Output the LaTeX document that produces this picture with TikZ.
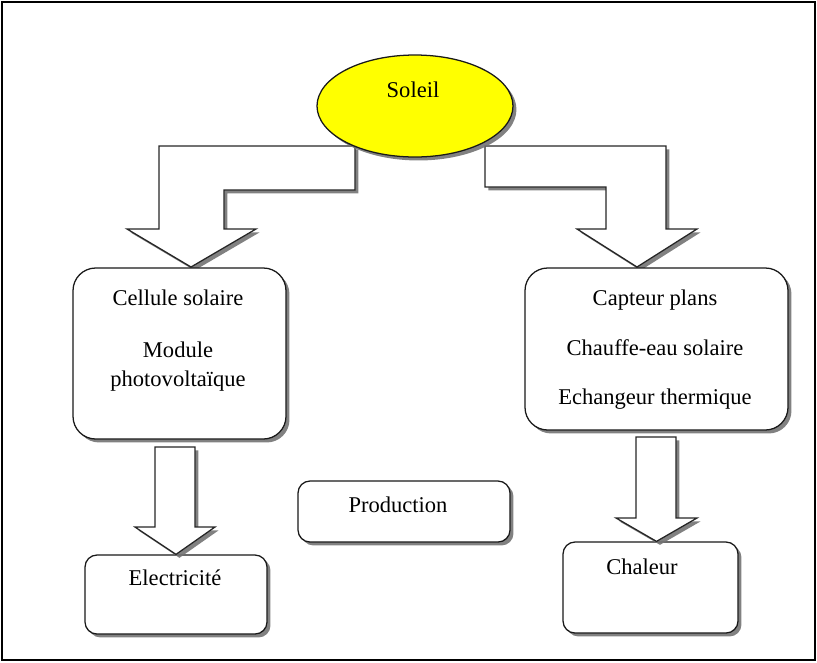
\documentclass[tikz,border=0pt]{standalone}
\usepackage{fontspec}
\setmainfont{Liberation Serif}
\usetikzlibrary{shapes.geometric,shadows}

\definecolor{sunyellow}{RGB}{255,255,0}

\tikzset{
  shade/.style={drop shadow={shadow xshift=2.6pt,shadow yshift=-2.6pt,fill=black!55,opacity=0.9}},
  box/.style={draw=black!90,line width=0.95pt,fill=white,rounded corners=17pt,shade,inner sep=0pt},
  flatbox/.style={box,rounded corners=9pt},
  blockarrow/.style={draw=black!85,line width=0.95pt,fill=white,line join=miter,shade},
  txt/.style={anchor=base,inner sep=0pt,font=\fontsize{16.9}{20}\selectfont}
}

\begin{document}
\begin{tikzpicture}[x=0.75pt,y=-0.75pt]
  \useasboundingbox (0,0) rectangle (817,662);
  \draw[line width=1.2pt] (2,2) rectangle (815,660);

  %arrows from the sun
  \draw[blockarrow] (159,146) -- (355,146) -- (355,190) -- (224,190) -- (224,229)
      -- (256,229) -- (191,267) -- (127,229) -- (159,229) -- cycle;
  \draw[blockarrow] (485,146) -- (666,146) -- (666,229) -- (697,229) -- (637,267)
      -- (577,229) -- (606,229) -- (606,187) -- (485,187) -- cycle;

  \node[ellipse,draw=black!90,line width=0.95pt,fill=sunyellow,shade,
        minimum width=147pt,minimum height=76.5pt,inner sep=0pt] (soleil) at (415,106) {};
  \node[txt] (tsoleil) at (413,97) {Soleil};

  %boxes
  \node[box,minimum width=159.75pt,minimum height=128.25pt] (cellule) at (179.5,353.5) {};
  \node[box,minimum width=197.25pt,minimum height=121.5pt] (capteur) at (656.5,349) {};
  \node[flatbox,minimum width=136.5pt,minimum height=59.25pt] (elec) at (176,594.5) {};
  \node[flatbox,minimum width=159pt,minimum height=45.75pt] (prod) at (404,511.5) {};
  \node[flatbox,minimum width=131.25pt,minimum height=68.25pt] (chaleur) at (650.5,587.5) {};

  \node[txt] (t1) at (178,305) {Cellule solaire};
  \node[txt] (t2) at (178,357) {Module};
  \node[txt] (t3) at (178,386) {photovoltaïque};
  \node[txt] (t4) at (655,305) {Capteur plans};
  \node[txt] (t5) at (655,355) {Chauffe-eau solaire};
  \node[txt] (t6) at (655,404) {Echangeur thermique};
  \node[txt] (t7) at (175,585) {Electricité};
  \node[txt] (t8) at (398,512) {Production};
  \node[txt] (t9) at (642,574) {Chaleur};

  %arrows down
  \draw[blockarrow] (155,447) -- (195,447) -- (195,527) -- (215,527) -- (elec.north)
      -- (135,527) -- (155,527) -- cycle;
  \draw[blockarrow] (636,437) -- (676,437) -- (676,518) -- (697,518) -- (capteur.south |- chaleur.north)
      -- (616,518) -- (636,518) -- cycle;
\end{tikzpicture}
\end{document}
